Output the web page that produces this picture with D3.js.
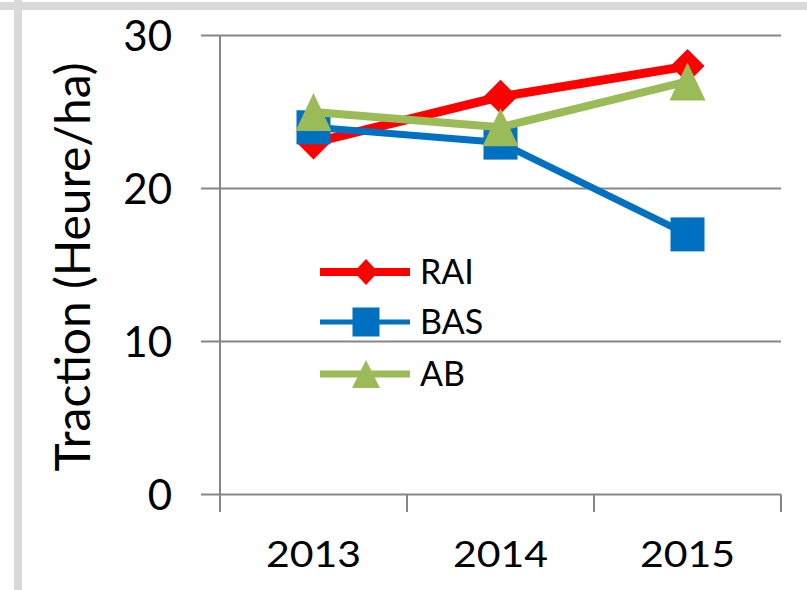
<!DOCTYPE html>
<html>
<head>
<meta charset="utf-8">
<script src="https://cdn.jsdelivr.net/npm/d3@7"></script>
<style>
  body { margin: 0; background: #fff; }
  svg { display: block; }
  text { font-family: Lato, "Open Sans", sans-serif; fill: #000; }
</style>
</head>
<body>
<div id="chart"></div>
<script>
// data
const years = ["2013", "2014", "2015"]
const yTicks = [0, 10, 20, 30]
const rai = [23, 26, 28]
const bas = [24, 23, 17]
const ab = [25, 24, 27]
const seriesNames = ["RAI", "BAS", "AB"]

const W = 807, H = 590
const colors = {RAI: "#ff0000", BAS: "#0070c0", AB: "#9bbb59"}
const widths = {RAI: 9, BAS: 7, AB: 8}
const legendWidths = {RAI: 8, BAS: 5, AB: 7}

const series = [
    {name: "RAI", values: rai},
    {name: "BAS", values: bas},
    {name: "AB", values: ab}
]

const svg = d3.select("#chart").append("svg")
    .attr("width", W)
    .attr("height", H)

// grey frame left over from the screenshot
svg.append("rect").attr("x", 0).attr("y", 2).attr("width", W).attr("height", 8).attr("fill", "#d9d9d9")
svg.append("rect").attr("x", 14).attr("y", 0).attr("width", 8).attr("height", H).attr("fill", "#d9d9d9")

const x = d3.scaleBand().domain(years).range([220, 781])
const y = d3.scaleLinear().domain([0, 30]).range([494.5, 35.5])
const cx = d => x(d) + x.bandwidth() / 2

const gridColor = "#868686"

// gridlines + y ticks
const gGrid = svg.append("g")
gGrid.selectAll("line")
    .data(yTicks)
    .join("line")
    .attr("x1", 201)
    .attr("x2", 781)
    .attr("y1", d => y(d))
    .attr("y2", d => y(d))
    .attr("stroke", gridColor)
    .attr("stroke-width", 2)

// y axis line
svg.append("line")
    .attr("x1", 220).attr("x2", 220)
    .attr("y1", y(30)).attr("y2", 512)
    .attr("stroke", gridColor).attr("stroke-width", 2)

// x ticks at band edges
const xEdges = years.map(d => x(d)).concat([x.range()[1]])
svg.append("g").selectAll("line")
    .data(xEdges)
    .join("line")
    .attr("x1", d => d).attr("x2", d => d)
    .attr("y1", y(0)).attr("y2", 512)
    .attr("stroke", gridColor).attr("stroke-width", 2)

// y labels
svg.append("g").selectAll("text")
    .data(yTicks)
    .join("text")
    .attr("x", 172)
    .attr("y", d => y(d) + 15)
    .attr("text-anchor", "end")
    .style("font-size", "42px")
    .text(d => d)

// x labels
svg.append("g").selectAll("text")
    .data(years)
    .join("text")
    .attr("transform", d => `translate(${cx(d)},567) scale(1,0.88)`)
    .attr("text-anchor", "middle")
    .style("font-size", "41px")
    .text(d => d)

// axis title
svg.append("text")
    .attr("transform", "translate(90,267) rotate(-90)")
    .attr("text-anchor", "middle")
    .attr("textLength", 409)
    .attr("lengthAdjust", "spacingAndGlyphs")
    .style("font-size", "48px")
    .text("Traction (Heure/ha)")

function marker(g, name, px, py, s) {
    const c = colors[name]
    if (name === "RAI") {
        g.append("path")
            .attr("d", `M${px},${py - s.h} L${px + s.w},${py} L${px},${py + s.h} L${px - s.w},${py} Z`)
            .attr("fill", c)
    } else if (name === "BAS") {
        g.append("rect")
            .attr("x", px - s.w).attr("y", py - s.h)
            .attr("width", s.w * 2).attr("height", s.h * 2)
            .attr("fill", c)
    } else {
        g.append("path")
            .attr("d", `M${px},${py - s.h} L${px + s.w},${py + s.h} L${px - s.w},${py + s.h} Z`)
            .attr("fill", c)
    }
}

const plotSizes = {RAI: {w: 17, h: 17}, BAS: {w: 17, h: 17}, AB: {w: 18, h: 19}}
const legendSizes = {RAI: {w: 12, h: 13}, BAS: {w: 13.5, h: 14.5}, AB: {w: 14, h: 14}}

const line = d3.line()
    .x((d, i) => cx(years[i]))
    .y(d => y(d))

series.forEach(s => {
    const g = svg.append("g")
    g.append("path")
        .datum(s.values)
        .attr("d", line)
        .attr("fill", "none")
        .attr("stroke", colors[s.name])
        .attr("stroke-width", widths[s.name])
        .attr("stroke-linejoin", "round")
    s.values.forEach((v, i) => marker(g, s.name, cx(years[i]), y(v), plotSizes[s.name]))
})

// legend
const legendY = [272, 322, 374]
seriesNames.forEach((name, i) => {
    const g = svg.append("g")
    g.append("line")
        .attr("x1", 320).attr("x2", 410)
        .attr("y1", legendY[i]).attr("y2", legendY[i])
        .attr("stroke", colors[name])
        .attr("stroke-width", legendWidths[name])
    marker(g, name, 366, legendY[i], legendSizes[name])
    g.append("text")
        .attr("x", 420)
        .attr("y", legendY[i] + 12)
        .style("font-size", "34px")
        .text(name)
})
</script>
</body>
</html>
